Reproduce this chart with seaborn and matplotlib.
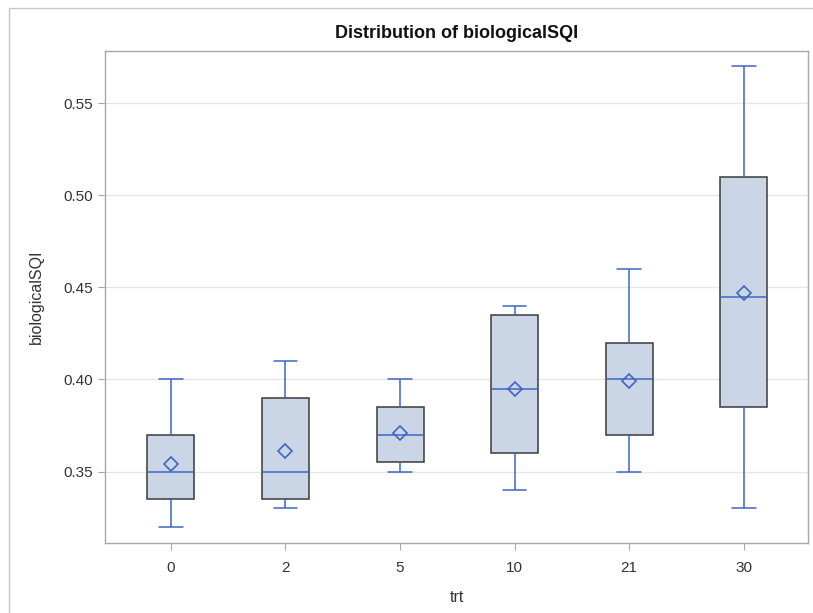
import numpy as np
import pandas as pd
import matplotlib
matplotlib.use("Agg")
import matplotlib.pyplot as plt
import seaborn as sns
from matplotlib.patches import Rectangle

# ---- data ----
trt = ["0", "2", "5", "10", "21", "30"]
mins = [0.320, 0.330, 0.350, 0.340, 0.350, 0.330]
q1s = [0.335, 0.335, 0.355, 0.360, 0.370, 0.385]
medians = [0.350, 0.350, 0.370, 0.395, 0.400, 0.445]
q3s = [0.370, 0.390, 0.385, 0.435, 0.420, 0.510]
maxs = [0.400, 0.410, 0.400, 0.440, 0.460, 0.570]
means = [0.354, 0.361, 0.371, 0.395, 0.399, 0.447]
yticks = [0.35, 0.40, 0.45, 0.50, 0.55]

# five-number summaries -> long table (with 5 points, linear quartiles hit q1/median/q3 exactly)
rows = []
for t, a, b, c, d, e in zip(trt, mins, q1s, medians, q3s, maxs):
    for v in (a, b, c, d, e):
        rows.append({"trt": t, "biologicalSQI": v})
df = pd.DataFrame(rows)
mean_df = pd.DataFrame({"trt": trt, "biologicalSQI": means})

sns.set_theme(style="white")
plt.rcParams["font.family"] = ["Liberation Sans", "DejaVu Sans"]

BLUE = "#3f66c2"
FILL = "#cad5e5"
EDGE = "#3a3a3a"
GRID = "#e6e6e6"
SPINE = "#a8a8a8"

fig = plt.figure(figsize=(8.13, 6.13), dpi=100)
ax = fig.add_axes([105 / 813, 1 - 543 / 613, (808 - 105) / 813, (543 - 51) / 613])

sns.boxplot(
    data=df, x="trt", y="biologicalSQI", order=trt, ax=ax,
    whis=(0, 100), width=0.41, fliersize=0,
    boxprops=dict(facecolor=FILL, edgecolor=EDGE, linewidth=1.1),
    whiskerprops=dict(color=BLUE, linewidth=1.1),
    capprops=dict(color=BLUE, linewidth=1.1),
    medianprops=dict(color=BLUE, linewidth=1.1),
)
sns.pointplot(
    data=mean_df, x="trt", y="biologicalSQI", order=trt, ax=ax,
    linestyle="none", marker="D", markersize=7.5, errorbar=None,
    color=BLUE, markerfacecolor="none", markeredgewidth=1.2,
)

ax.set_xlim(-0.575, 5.56)
ax.set_ylim(0.3112, 0.5784)
ax.set_yticks(yticks)
ax.set_yticklabels([f"{v:.2f}" for v in yticks])
ax.yaxis.grid(True, color=GRID, linewidth=1.0)
ax.set_axisbelow(True)
for s in ax.spines.values():
    s.set_color(SPINE)
    s.set_linewidth(1.0)
ax.tick_params(axis="both", which="major", length=5, width=0.8, color=SPINE,
               labelsize=11, labelcolor="#333333", direction="out",
               bottom=True, left=True)
ax.tick_params(axis="x", pad=8)
ax.tick_params(axis="y", pad=4)
ax.set_xlabel("trt", fontsize=11.5, color="#333333", labelpad=11)
ax.set_ylabel("biologicalSQI", fontsize=11.5, color="#333333", labelpad=14)
ax.set_title("Distribution of biologicalSQI", fontsize=13, fontweight="bold",
             color="#111111", pad=9)

# outer frame like the SAS output border
fig.patches.append(Rectangle((9 / 813, -0.01), 1.0, 1 - 8 / 613 + 0.01,
                             transform=fig.transFigure, fill=False,
                             edgecolor="#c8c8c8", linewidth=1.0))

fig.savefig("out.png", dpi=100)
